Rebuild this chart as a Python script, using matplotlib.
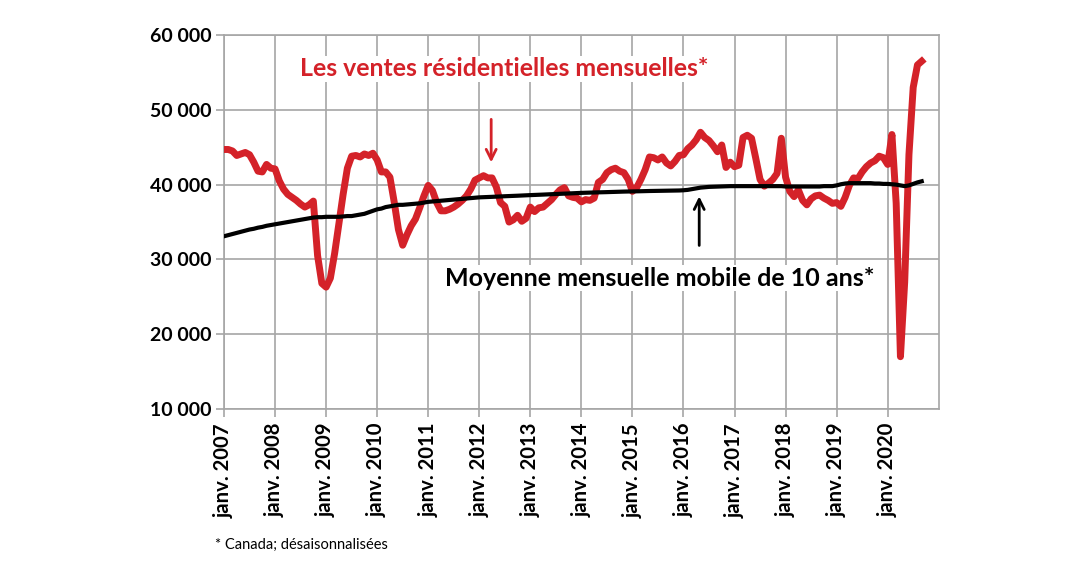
import matplotlib.pyplot as plt
import matplotlib.ticker as mticker

# ventes résidentielles mensuelles, Canada, désaisonnalisées (janv. 2007 -> sept. 2020)
ventes = [
    44700, 44700, 44500, 43900, 44100, 44300, 44000, 43000, 41800, 41700, 42700, 42200,  # 2007
    42100, 40500, 39400, 38700, 38300, 37900, 37400, 37000, 37300, 37800, 30500, 26800,  # 2008
    26300, 27500, 30800, 34800, 38700, 42200, 43800, 43900, 43700, 44100, 43900, 44200,  # 2009
    43300, 41700, 41700, 41000, 37700, 34000, 31900, 33300, 34500, 35400, 36900, 38500,  # 2010
    39900, 39200, 37600, 36500, 36500, 36700, 37000, 37400, 37900, 38500, 39400, 40600,  # 2011
    40900, 41200, 40900, 40900, 39700, 37600, 37100, 35000, 35300, 35900, 35100, 35500,  # 2012
    37000, 36400, 36900, 37000, 37500, 38000, 38700, 39300, 39600, 38500, 38300, 38200,  # 2013
    37700, 38000, 37900, 38200, 40300, 40700, 41600, 42000, 42200, 41800, 41600, 40700,  # 2014
    39100, 39600, 40700, 42000, 43700, 43600, 43300, 43700, 42900, 42500, 43100, 43900,  # 2015
    44000, 44800, 45300, 46000, 47000, 46300, 45900, 45200, 44400, 45300, 42300, 43000,  # 2016
    42400, 42600, 46300, 46600, 46200, 43500, 40700, 39800, 40200, 40700, 41500, 46200,  # 2017
    41000, 39100, 38400, 39300, 37900, 37300, 38100, 38500, 38600, 38200, 37900, 37500,  # 2018
    37600, 37100, 38300, 39900, 40900, 40800, 41700, 42400, 42900, 43200, 43800, 43600,  # 2019
    42700, 46700, 37500, 17000, 27000, 44000, 53000, 56000, 56500,                       # 2020
]

# moyenne mensuelle mobile de 10 ans
moyenne = [
    33100, 33250, 33400, 33550, 33700, 33850, 34000, 34100, 34250, 34350, 34500, 34600,
    34700, 34800, 34900, 35000, 35100, 35200, 35300, 35400, 35500, 35600, 35650, 35650,
    35700, 35700, 35700, 35700, 35750, 35800, 35800, 35900, 36000, 36100, 36300, 36500,
    36700, 36800, 37000, 37100, 37200, 37300, 37300, 37350, 37400, 37450, 37500, 37600,
    37700, 37750, 37800, 37850, 37900, 37950, 38000, 38050, 38100, 38150, 38200, 38250,
    38300, 38320, 38350, 38370, 38400, 38420, 38450, 38470, 38500, 38520, 38550, 38570,
    38600, 38620, 38650, 38670, 38700, 38720, 38750, 38770, 38800, 38820, 38850, 38870,
    38900, 38920, 38930, 38950, 38970, 38980, 39000, 39020, 39030, 39050, 39070, 39080,
    39100, 39110, 39120, 39140, 39150, 39160, 39170, 39180, 39190, 39200, 39210, 39220,
    39250, 39300, 39400, 39500, 39600, 39650, 39700, 39720, 39740, 39760, 39780, 39800,
    39800, 39800, 39800, 39800, 39800, 39800, 39800, 39800, 39800, 39800, 39800, 39800,
    39750, 39750, 39750, 39750, 39750, 39750, 39750, 39750, 39750, 39800, 39800, 39800,
    39900, 40050, 40150, 40200, 40200, 40200, 40200, 40200, 40200, 40150, 40150, 40100,
    40100, 40050, 40000, 39900, 39800, 39900, 40100, 40300, 40450,
]

annees = list(range(2007, 2021))
etiquettes = ['janv. %d' % a for a in annees]

police = ['Lato', 'DejaVu Sans']
plt.rcParams['font.family'] = police

rouge = '#d42229'
gris = '#a6a6a6'

fig = plt.figure(figsize=(10.79, 5.65), dpi=100)
ax = fig.add_axes([0.2076, 0.276, 0.6624, 0.662])

mois = list(range(len(ventes)))
ax.plot(mois, ventes, color=rouge, lw=5.0, solid_joinstyle='round', zorder=3)
ax.plot(list(range(len(moyenne))), moyenne, color='black', lw=3.0, zorder=4)

ax.set_xlim(0, 168)
ax.set_ylim(10000, 60000)
ax.set_xticks([12 * i for i in range(len(annees))])
ax.set_xticklabels(etiquettes, rotation=90, fontsize=14.6, fontweight='bold')
ax.set_yticks(range(10000, 60001, 10000))
ax.yaxis.set_major_formatter(mticker.FuncFormatter(lambda v, p: '{:,.0f}'.format(v).replace(',', ' ')))
for t in ax.get_yticklabels():
    t.set_fontsize(14)
    t.set_fontweight('bold')

ax.grid(True, color=gris, lw=1.2, zorder=0)
for s in ax.spines.values():
    s.set_color(gris)
    s.set_linewidth(1.2)
ax.tick_params(axis='both', color=gris, width=1.2, length=6)
ax.tick_params(axis='y', pad=3)
ax.tick_params(axis='x', pad=4)

# annotations
ax.text(0.392, 0.91, 'Les ventes résidentielles mensuelles*', transform=ax.transAxes,
        ha='center', va='center', color=rouge, fontsize=17.9, fontweight='bold', zorder=5,
        bbox=dict(facecolor='white', edgecolor='none', pad=1))
ax.annotate('', xy=(62.8, 42600), xytext=(62.8, 49100),
            arrowprops=dict(arrowstyle='->', color=rouge, lw=2, mutation_scale=18), zorder=5)

ax.text(0.609, 0.35, 'Moyenne mensuelle mobile de 10 ans*', transform=ax.transAxes,
        ha='center', va='center', color='black', fontsize=18.0, fontweight='bold', zorder=5,
        bbox=dict(facecolor='white', edgecolor='none', pad=1))
ax.annotate('', xy=(111.7, 38800), xytext=(111.7, 31500),
            arrowprops=dict(arrowstyle='->', color='black', lw=2, mutation_scale=18), zorder=5)

fig.text(0.199, 0.035, '* Canada; désaisonnalisées', fontsize=10.5, ha='left', va='center')

fig.savefig('out.png', dpi=100)
